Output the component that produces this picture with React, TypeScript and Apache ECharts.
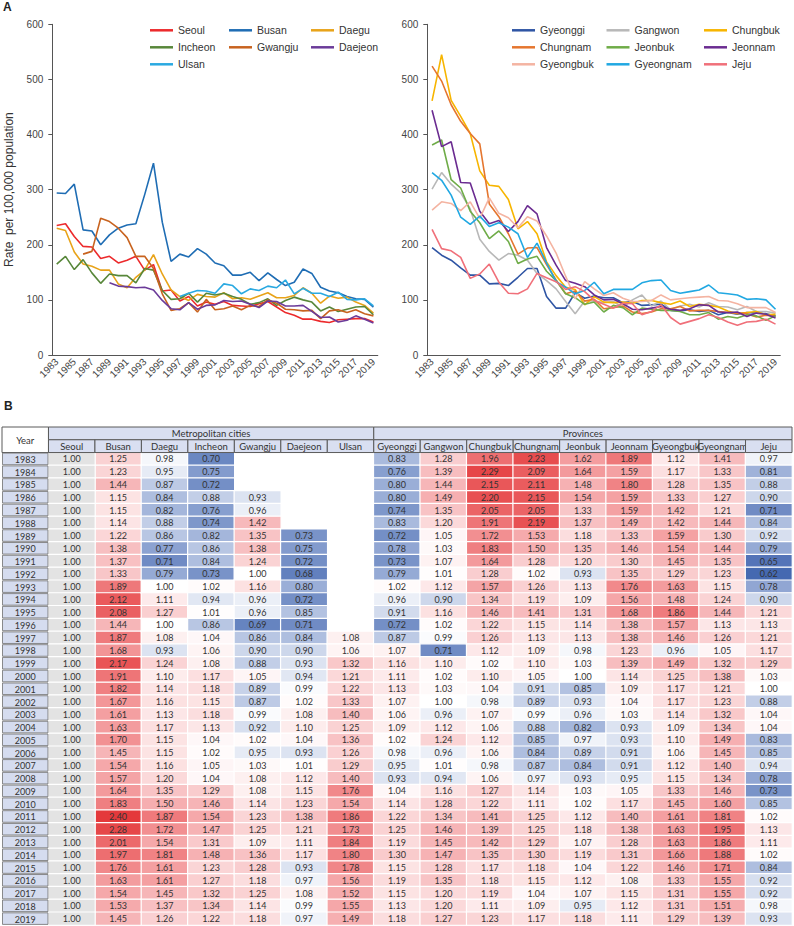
import React, { useEffect, useRef } from 'react';
import * as echarts from 'echarts';

const years = ['1983','1984','1985','1986','1987','1988','1989','1990','1991','1992','1993','1994','1995','1996','1997','1998','1999','2000','2001','2002','2003','2004','2005','2006','2007','2008','2009','2010','2011','2012','2013','2014','2015','2016','2017','2018','2019'];
const metroNames = ['Seoul','Busan','Daegu','Incheon','Gwangju','Daejeon','Ulsan'];
const provNames = ['Gyeonggi','Gangwon','Chungbuk','Chungnam','Jeonbuk','Jeonnam','Gyeongbuk','Gyeongnam','Jeju'];
const yTicks = [0, 100, 200, 300, 400, 500, 600];

// Rates per 100,000 population (panel A)
const rateSeoul = [235,238,215,197,196,175,179,167,172,179,154,164,116,118,98,106,89,96,92,97,90,89,88,93,97,87,77,72,65,65,61,59,64,65,66,66,60];
const rateBusan = [294,293,310,227,225,200,218,230,236,238,291,348,241,170,183,178,193,183,167,162,145,145,150,135,149,137,126,132,156,148,123,116,113,106,102,101,87];
const rateDaegu = [230,226,187,165,161,154,154,129,122,141,154,182,147,118,106,99,110,106,105,113,102,104,101,107,113,104,104,108,122,112,94,107,103,105,96,90,76];
const rateIncheon = [165,179,155,173,149,130,147,144,144,131,157,154,117,101,102,112,96,112,109,112,106,101,92,95,102,90,99,105,100,96,80,87,79,83,87,88,73];
const rateGwangju = [null,null,null,183,188,248,242,230,213,179,179,157,111,81,84,95,78,101,82,84,89,82,90,88,100,94,83,82,80,81,66,80,82,77,82,75,71];
const rateDaejeon = [null,null,null,null,null,null,131,125,124,122,123,118,99,84,82,95,83,90,91,99,97,98,92,86,98,97,89,89,90,79,68,69,60,63,71,65,58];
const rateUlsan = [null,null,null,null,null,null,null,null,null,null,null,null,null,null,106,112,117,116,112,129,126,111,120,117,125,122,136,111,121,112,112,106,114,101,100,102,89];
const rateGyeonggi = [195,181,172,158,145,145,129,130,126,141,157,157,106,85,85,113,103,107,104,104,95,97,90,91,92,81,80,82,79,81,73,77,74,77,76,75,71];
const rateGangwon = [301,331,310,294,265,210,188,172,184,181,172,148,135,120,97,75,98,98,95,97,86,100,109,89,98,82,89,92,87,95,88,87,82,88,79,79,76];
const rateChungbuk = [461,545,462,433,402,334,308,306,282,229,242,220,169,144,123,119,91,106,96,95,96,94,99,99,95,92,98,88,92,90,87,80,75,77,79,73,74];
const rateChungnam = [524,497,454,424,402,383,274,251,220,183,194,195,164,136,111,116,98,101,84,86,89,78,75,78,84,84,88,80,81,81,79,77,76,75,69,72,70];
const rateJeonbuk = [381,390,318,303,261,240,211,225,206,166,174,179,152,135,111,104,92,96,78,90,86,73,85,83,81,81,79,73,73,77,65,70,67,73,71,63,71];
const rateJeonnam = [444,378,387,313,312,261,238,244,224,242,271,256,195,163,135,130,124,109,100,101,93,83,82,85,88,83,81,84,91,90,78,77,78,70,76,74,67];
const rateGyeongbuk = [263,278,275,262,278,248,285,257,249,231,251,243,216,185,143,102,133,120,108,113,103,97,97,99,109,100,102,104,105,106,99,98,93,86,86,86,77];
const rateGyeongnam = [331,317,290,250,237,252,233,240,232,220,177,203,167,133,123,111,117,132,111,119,119,119,131,135,136,117,112,115,118,127,113,111,109,101,102,100,83];
const rateJeju = [228,193,189,177,139,147,165,132,112,111,120,148,140,133,119,124,115,99,92,85,94,93,73,79,91,68,56,61,66,73,68,60,54,60,61,65,56];

// Rate ratios vs Seoul (panel B)
const ratioSeoul = [1.00,1.00,1.00,1.00,1.00,1.00,1.00,1.00,1.00,1.00,1.00,1.00,1.00,1.00,1.00,1.00,1.00,1.00,1.00,1.00,1.00,1.00,1.00,1.00,1.00,1.00,1.00,1.00,1.00,1.00,1.00,1.00,1.00,1.00,1.00,1.00,1.00];
const ratioBusan = [1.25,1.23,1.44,1.15,1.15,1.14,1.22,1.38,1.37,1.33,1.89,2.12,2.08,1.44,1.87,1.68,2.17,1.91,1.82,1.67,1.61,1.63,1.70,1.45,1.54,1.57,1.64,1.83,2.40,2.28,2.01,1.97,1.76,1.63,1.54,1.53,1.45];
const ratioDaegu = [0.98,0.95,0.87,0.84,0.82,0.88,0.86,0.77,0.71,0.79,1.00,1.11,1.27,1.00,1.08,0.93,1.24,1.10,1.14,1.16,1.13,1.17,1.15,1.15,1.16,1.20,1.35,1.50,1.87,1.72,1.54,1.81,1.61,1.61,1.45,1.37,1.26];
const ratioIncheon = [0.70,0.75,0.72,0.88,0.76,0.74,0.82,0.86,0.84,0.73,1.02,0.94,1.01,0.86,1.04,1.06,1.08,1.17,1.18,1.15,1.18,1.13,1.04,1.02,1.05,1.04,1.29,1.46,1.54,1.47,1.31,1.48,1.23,1.27,1.32,1.34,1.22];
const ratioGwangju = [null,null,null,0.93,0.96,1.42,1.35,1.38,1.24,1.00,1.16,0.96,0.96,0.69,0.86,0.90,0.88,1.05,0.89,0.87,0.99,0.92,1.02,0.95,1.03,1.08,1.08,1.14,1.23,1.25,1.09,1.36,1.28,1.18,1.25,1.14,1.18];
const ratioDaejeon = [null,null,null,null,null,null,0.73,0.75,0.72,0.68,0.80,0.72,0.85,0.71,0.84,0.90,0.93,0.94,0.99,1.02,1.08,1.10,1.04,0.93,1.01,1.12,1.15,1.23,1.38,1.21,1.11,1.17,0.93,0.97,1.08,0.99,0.97];
const ratioUlsan = [null,null,null,null,null,null,null,null,null,null,null,null,null,null,1.08,1.06,1.32,1.21,1.22,1.33,1.40,1.25,1.36,1.26,1.29,1.40,1.76,1.54,1.86,1.73,1.84,1.80,1.78,1.56,1.52,1.55,1.49];
const ratioGyeonggi = [0.83,0.76,0.80,0.80,0.74,0.83,0.72,0.78,0.73,0.79,1.02,0.96,0.91,0.72,0.87,1.07,1.16,1.11,1.13,1.07,1.06,1.09,1.02,0.98,0.95,0.93,1.04,1.14,1.22,1.25,1.19,1.30,1.15,1.19,1.15,1.13,1.18];
const ratioGangwon = [1.28,1.39,1.44,1.49,1.35,1.20,1.05,1.03,1.07,1.01,1.12,0.90,1.16,1.02,0.99,0.71,1.10,1.02,1.03,1.00,0.96,1.12,1.24,0.96,1.01,0.94,1.16,1.28,1.34,1.46,1.45,1.47,1.28,1.35,1.20,1.20,1.27];
const ratioChungbuk = [1.96,2.29,2.15,2.20,2.05,1.91,1.72,1.83,1.64,1.28,1.57,1.34,1.46,1.22,1.26,1.12,1.02,1.10,1.04,0.98,1.07,1.06,1.12,1.06,0.98,1.06,1.27,1.22,1.41,1.39,1.42,1.35,1.17,1.18,1.19,1.11,1.23];
const ratioChungnam = [2.23,2.09,2.11,2.15,2.05,2.19,1.53,1.50,1.28,1.02,1.26,1.19,1.41,1.15,1.13,1.09,1.10,1.05,0.91,0.89,0.99,0.88,0.85,0.84,0.87,0.97,1.14,1.11,1.25,1.25,1.29,1.30,1.18,1.15,1.04,1.09,1.17];
const ratioJeonbuk = [1.62,1.64,1.48,1.54,1.33,1.37,1.18,1.35,1.20,0.93,1.13,1.09,1.31,1.14,1.13,0.98,1.03,1.00,0.85,0.93,0.96,0.82,0.97,0.89,0.84,0.93,1.03,1.02,1.12,1.18,1.07,1.19,1.04,1.12,1.07,0.95,1.18];
const ratioJeonnam = [1.89,1.59,1.80,1.59,1.59,1.49,1.33,1.46,1.30,1.35,1.76,1.56,1.68,1.38,1.38,1.23,1.39,1.14,1.09,1.04,1.03,0.93,0.93,0.91,0.91,0.95,1.05,1.17,1.40,1.38,1.28,1.31,1.22,1.08,1.15,1.12,1.11];
const ratioGyeongbuk = [1.12,1.17,1.28,1.33,1.42,1.42,1.59,1.54,1.45,1.29,1.63,1.48,1.86,1.57,1.46,0.96,1.49,1.25,1.17,1.17,1.14,1.09,1.10,1.06,1.12,1.15,1.33,1.45,1.61,1.63,1.63,1.66,1.46,1.33,1.31,1.31,1.29];
const ratioGyeongnam = [1.41,1.33,1.35,1.27,1.21,1.44,1.30,1.44,1.35,1.23,1.15,1.24,1.44,1.13,1.26,1.05,1.32,1.38,1.21,1.23,1.32,1.34,1.49,1.45,1.40,1.34,1.46,1.60,1.81,1.95,1.86,1.88,1.71,1.55,1.55,1.51,1.39];
const ratioJeju = [0.97,0.81,0.88,0.90,0.71,0.84,0.92,0.79,0.65,0.62,0.78,0.90,1.21,1.13,1.21,1.17,1.29,1.03,1.00,0.88,1.04,1.04,0.83,0.85,0.94,0.78,0.73,0.85,1.02,1.13,1.11,1.02,0.84,0.92,0.92,0.98,0.93];

const metroRates = [rateSeoul, rateBusan, rateDaegu, rateIncheon, rateGwangju, rateDaejeon, rateUlsan];
const provRates = [rateGyeonggi, rateGangwon, rateChungbuk, rateChungnam, rateJeonbuk, rateJeonnam, rateGyeongbuk, rateGyeongnam, rateJeju];
const ratioTable = [ratioSeoul, ratioBusan, ratioDaegu, ratioIncheon, ratioGwangju, ratioDaejeon, ratioUlsan, ratioGyeonggi, ratioGangwon, ratioChungbuk, ratioChungnam, ratioJeonbuk, ratioJeonnam, ratioGyeongbuk, ratioGyeongnam, ratioJeju];

const metroColors = ['#ec2a2c', '#1f6db4', '#e8a319', '#58873a', '#c8631f', '#6b3b99', '#2aa9e1'];
const provColors = ['#2f55a4', '#b8b8b8', '#f7b500', '#e5762f', '#6fac48', '#6b2c91', '#f4b4a2', '#21a8e2', '#f0707a'];

const FONT = 'Liberation Sans, Arial, sans-serif';
const TFONT = 'Lato, sans-serif';
const HDR = '#d9dff1';

export default function App() {
  const ref = useRef<HTMLDivElement>(null);
  useEffect(() => {
    if (!ref.current) return;
    const chart = echarts.init(ref.current, undefined, { renderer: 'svg' });

    const cols = ['Year', ...metroNames, ...provNames];
    const rows = ['h1', 'h2', ...years];

    const lineSeries: any[] = [];
    metroNames.forEach((n, i) => lineSeries.push({
      type: 'line', name: n, data: metroRates[i], xAxisIndex: 0, yAxisIndex: 0,
      showSymbol: false, symbol: 'none', color: metroColors[i],
      lineStyle: { width: 1.6, color: metroColors[i] }, emphasis: { disabled: true },
    }));
    provNames.forEach((n, i) => lineSeries.push({
      type: 'line', name: n, data: provRates[i], xAxisIndex: 1, yAxisIndex: 1,
      showSymbol: false, symbol: 'none', color: provColors[i],
      lineStyle: { width: 1.6, color: provColors[i] }, emphasis: { disabled: true },
    }));

    const heatData: any[] = [];
    for (let c = 1; c < ratioTable.length; c++) {
      ratioTable[c].forEach((v, i) => { if (v !== null) heatData.push([c + 1, i + 2, v]); });
    }
    const seoulData = ratioSeoul.map((v, i) => [1, i + 2, v]);

    const headerCells = [
      { x0: 0, x1: 0, y0: 0, y1: 1, text: 'Year', fill: '#ffffff' },
      { x0: 1, x1: 7, y0: 0, y1: 0, text: 'Metropolitan cities', fill: HDR },
      { x0: 8, x1: 16, y0: 0, y1: 0, text: 'Provinces', fill: HDR },
      ...cols.slice(1).map((n, i) => ({ x0: i + 1, x1: i + 1, y0: 1, y1: 1, text: n, fill: HDR })),
    ];

    const heatLabel = {
      show: true, fontSize: 9, color: '#333', fontFamily: TFONT,
      formatter: (p: any) => Number(p.value[2]).toFixed(2),
    };

    const lineIdx = lineSeries.length;

    const xCommon = (g: number) => ({
      type: 'category', gridIndex: g, data: years, boundaryGap: true,
      axisLine: { lineStyle: { color: '#555', width: 1 } },
      axisTick: { alignWithLabel: true, interval: 0, length: 4, lineStyle: { color: '#555' } },
      axisLabel: { interval: 1, rotate: 45, fontSize: 10, color: '#444', margin: 5, fontFamily: FONT },
    });
    const yCommon = (g: number) => ({
      type: 'value', gridIndex: g, min: yTicks[0], max: yTicks[yTicks.length - 1], interval: 100,
      axisLine: { show: true, lineStyle: { color: '#555', width: 1 } },
      axisTick: { show: true, length: 4, lineStyle: { color: '#555' } },
      splitLine: { show: false },
      axisLabel: { fontSize: 10, color: '#444', margin: 9, fontFamily: FONT },
    });

    const legendCommon = {
      orient: 'vertical', icon: 'rect', itemWidth: 23, itemHeight: 2.5, itemGap: 5, padding: 0,
      selectedMode: false,
      textStyle: { fontSize: 10.5, lineHeight: 12, color: '#333', fontFamily: FONT },
    };

    chart.setOption({
      animation: false,
      textStyle: { fontFamily: FONT },
      grid: [
        { left: 52.3, top: 24.3, width: 325.5, height: 330.7 },
        { left: 427.3, top: 24.3, width: 353, height: 330.7 },
        { left: 2, top: 427, width: 790, height: 498 },
      ],
      xAxis: [
        xCommon(0), xCommon(1),
        { type: 'category', gridIndex: 2, data: cols, show: false },
      ],
      yAxis: [
        { ...yCommon(0), name: 'Rate  per 100,000 population', nameLocation: 'middle', nameGap: 37,
          nameTextStyle: { fontSize: 12, color: '#333', fontFamily: FONT } },
        yCommon(1),
        { type: 'category', gridIndex: 2, data: rows, inverse: true, show: false },
      ],
      legend: [
        { ...legendCommon, left: 150, top: 24.3, data: ['Seoul', 'Incheon', 'Ulsan'] },
        { ...legendCommon, left: 229, top: 24.3, data: ['Busan', 'Gwangju'] },
        { ...legendCommon, left: 311, top: 24.3, data: ['Daegu', 'Daejeon'] },
        { ...legendCommon, left: 512, top: 24.3, data: ['Gyeonggi', 'Chungnam', 'Gyeongbuk'] },
        { ...legendCommon, left: 606.5, top: 24.3, data: ['Gangwon', 'Jeonbuk', 'Gyeongnam'] },
        { ...legendCommon, left: 704, top: 24.3, data: ['Chungbuk', 'Jeonnam', 'Jeju'] },
      ],
      visualMap: [
        {
          type: 'continuous', show: false, seriesIndex: lineIdx, dimension: 2,
          min: 0.6, max: 2.4,
          inRange: { color: ['#3c61ad', '#9aaed7', '#ffffff', '#fbd9da', '#f7bcbe', '#f4a0a2', '#f08385', '#ec6a6c', '#e85052', '#e4393b'] },
        },
        {
          type: 'continuous', show: false, seriesIndex: lineIdx + 1, dimension: 2,
          min: 0, max: 2,
          inRange: { color: ['#e3e3e3', '#e3e3e3'] },
        },
      ],
      graphic: [
        { type: 'text', left: 3, top: 1, style: { text: 'A', font: 'bold 12px Liberation Sans, Arial', fill: '#222' } },
        { type: 'text', left: 4, top: 400, style: { text: 'B', font: 'bold 12px Liberation Sans, Arial', fill: '#222' } },
      ],
      series: [
        ...lineSeries,
        {
          type: 'heatmap', xAxisIndex: 2, yAxisIndex: 2, data: heatData,
          itemStyle: { borderColor: '#ffffff', borderWidth: 1.2 },
          label: heatLabel, emphasis: { disabled: true },
        },
        {
          type: 'heatmap', xAxisIndex: 2, yAxisIndex: 2, data: seoulData,
          itemStyle: { borderColor: '#ffffff', borderWidth: 1.2 },
          label: heatLabel, emphasis: { disabled: true },
        },
        {
          type: 'custom', xAxisIndex: 2, yAxisIndex: 2, clip: false,
          data: headerCells.map((h) => [h.x0, h.y0]),
          renderItem: (params: any, api: any) => {
            const h = headerCells[params.dataIndex];
            const p0 = api.coord([h.x0, h.y0]);
            const sz = api.size([1, 1]);
            const x = p0[0] - sz[0] / 2;
            const y = p0[1] - sz[1] / 2;
            const w = (h.x1 - h.x0 + 1) * sz[0];
            const hh = (h.y1 - h.y0 + 1) * sz[1];
            return {
              type: 'group',
              children: [
                { type: 'rect', shape: { x, y, width: w, height: hh }, style: { fill: h.fill, stroke: '#5a5a5a', lineWidth: 1 } },
                { type: 'text', style: { text: h.text, x: x + w / 2, y: y + hh / 2 + 0.5, align: 'center', verticalAlign: 'middle', fontSize: 9.5, fill: '#333', fontFamily: TFONT } },
              ],
            };
          },
        },
        {
          type: 'custom', xAxisIndex: 2, yAxisIndex: 2, clip: false,
          data: years.map((_, i) => [0, i + 2]),
          renderItem: (params: any, api: any) => {
            const p0 = api.coord([0, params.dataIndex + 2]);
            const sz = api.size([1, 1]);
            const x = p0[0] - sz[0] / 2;
            const y = p0[1] - sz[1] / 2;
            return {
              type: 'group',
              children: [
                { type: 'rect', shape: { x: x + 0.5, y: y + 0.6, width: sz[0] - 1, height: sz[1] - 1.2 }, style: { fill: '#d5dcef', stroke: '#6e6e6e', lineWidth: 0.8 } },
                { type: 'text', style: { text: years[params.dataIndex], x: x + sz[0] / 2, y: y + sz[1] / 2 + 0.5, align: 'center', verticalAlign: 'middle', fontSize: 9, fill: '#333', fontFamily: TFONT } },
              ],
            };
          },
        },
      ],
    });
    return () => chart.dispose();
  }, []);
  return <div ref={ref} style={{ position: 'absolute', left: 0, top: 0, width: 794, height: 926 }} />;
}
